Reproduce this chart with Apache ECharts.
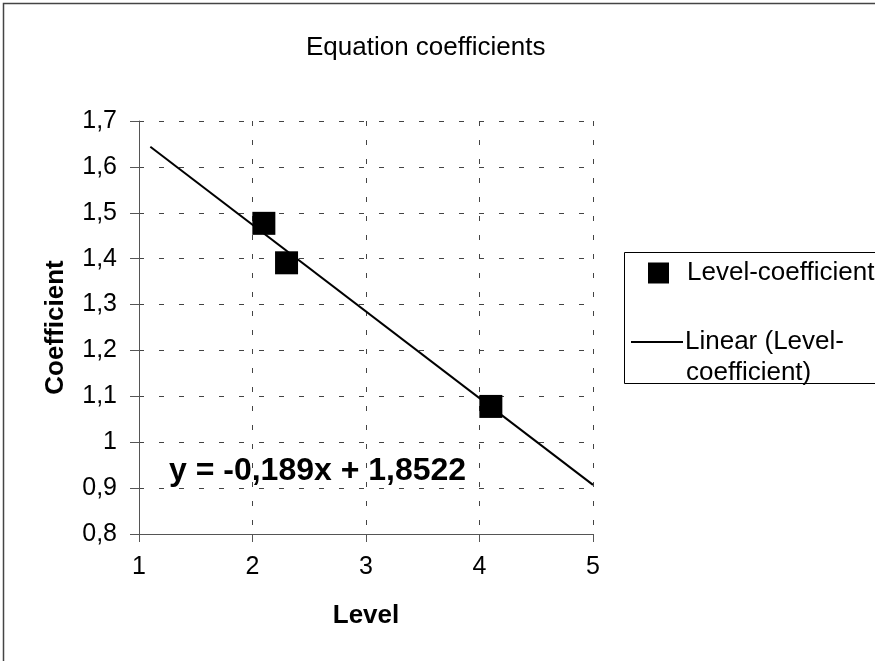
<!DOCTYPE html>
<html>
<head>
<meta charset="utf-8">
<title>Equation coefficients</title>
<script src="https://cdn.jsdelivr.net/npm/echarts@6/dist/echarts.min.js"></script>
<style>
  html, body { margin: 0; padding: 0; background: #fff; }
  #main { width: 875px; height: 661px; }
</style>
</head>
<body>
<div id="main"></div>
<script>
// measured points (Level, Coefficient)
var levels = [2.1, 2.3, 4.1];
var coefficients = [1.477, 1.391, 1.078];

// trendline ends
var trendX = [1.1, 5];
var trendY = [1.644, 0.907];

var xTicks = [1, 2, 3, 4, 5];
var equationText = 'y = -0,189x + 1,8522';

var FONT = '"Liberation Sans", Arial, sans-serif';

var pts = levels.map(function (x, i) { return [x, coefficients[i]]; });
var trend = trendX.map(function (x, i) { return [x, trendY[i]]; });

function comma(v) {
  return String(Math.round(v * 10) / 10).replace('.', ',');
}

var chart = echarts.init(document.getElementById('main'));

var option = {
  backgroundColor: '#fff',
  animation: false,
  title: {
    text: 'Equation coefficients',
    left: 306,
    top: 35,
    padding: 0,
    textStyle: { fontFamily: FONT, fontSize: 26, fontWeight: 'normal', color: '#000' }
  },
  legend: [
    {
      data: [{ name: 'Level-coefficient', icon: 'rect' }],
      left: 648,
      top: 260,
      padding: 0,
      itemWidth: 21,
      itemHeight: 21,
      itemGap: 0,
      selectedMode: false,
      textStyle: { fontFamily: FONT, fontSize: 26, color: '#000', padding: [0, 0, 0, 13] }
    },
    {
      data: [{ name: 'Linear (Level-coefficient)', icon: 'rect' }],
      formatter: function () { return 'Linear (Level-'; },
      left: 631,
      top: 329,
      padding: 0,
      itemWidth: 52,
      itemHeight: 2,
      selectedMode: false,
      textStyle: { fontFamily: FONT, fontSize: 26, color: '#000', padding: [0, 0, 0, -3] }
    }
  ],
  grid: { left: 139, top: 121, right: 282, bottom: 127 },
  xAxis: {
    type: 'value',
    min: xTicks[0],
    max: xTicks[xTicks.length - 1],
    interval: 1,
    name: 'Level',
    nameLocation: 'middle',
    nameGap: 69,
    nameTextStyle: { fontFamily: FONT, fontSize: 26, fontWeight: 'bold', color: '#000' },
    axisLine: { lineStyle: { color: '#555', width: 1 } },
    axisTick: { show: true, length: 8, lineStyle: { color: '#555' } },
    axisLabel: { margin: 21, fontFamily: FONT, fontSize: 25, color: '#000' },
    splitLine: { show: true, lineStyle: { color: '#444', type: [5, 14], width: 1 } }
  },
  yAxis: {
    type: 'value',
    min: 0.8,
    max: 1.7,
    interval: 0.1,
    name: 'Coefficient',
    nameLocation: 'middle',
    nameGap: 70,
    nameRotate: 90,
    nameTextStyle: { fontFamily: FONT, fontSize: 26, fontWeight: 'bold', color: '#000' },
    axisLine: { show: true, lineStyle: { color: '#555', width: 1 } },
    axisTick: { show: true, length: 9, lineStyle: { color: '#555' } },
    axisLabel: { margin: 22, fontFamily: FONT, fontSize: 25, color: '#000', formatter: comma },
    splitLine: { show: true, lineStyle: { color: '#444', type: [5, 15], width: 1 } }
  },
  series: [
    {
      name: 'Linear (Level-coefficient)',
      type: 'line',
      data: trend,
      showSymbol: false,
      symbol: 'none',
      lineStyle: { color: '#000', width: 2 },
      itemStyle: { color: '#000' },
      z: 2
    },
    {
      name: 'Level-coefficient',
      type: 'scatter',
      data: pts,
      symbol: 'rect',
      symbolSize: 23,
      itemStyle: { color: '#000', opacity: 1 },
      z: 3
    }
  ],
  graphic: [
    {
      type: 'rect',
      shape: { x: 3.5, y: 3.5, width: 1000, height: 1000 },
      style: { fill: 'none', stroke: '#444', lineWidth: 1.5 },
      silent: true,
      z: -1
    },
    {
      type: 'rect',
      shape: { x: 624.5, y: 252.5, width: 400, height: 131 },
      style: { fill: 'none', stroke: '#000', lineWidth: 1 },
      silent: true
    },
    {
      type: 'text',
      x: 686,
      y: 373,
      style: { text: 'coefficient)', font: '26px ' + FONT, fill: '#000', verticalAlign: 'middle' },
      silent: true
    },
    {
      type: 'text',
      x: 169,
      y: 471,
      style: { text: equationText, font: 'bold 32px ' + FONT, fill: '#000', verticalAlign: 'middle' },
      silent: true
    }
  ]
};

chart.setOption(option);
</script>
</body>
</html>
